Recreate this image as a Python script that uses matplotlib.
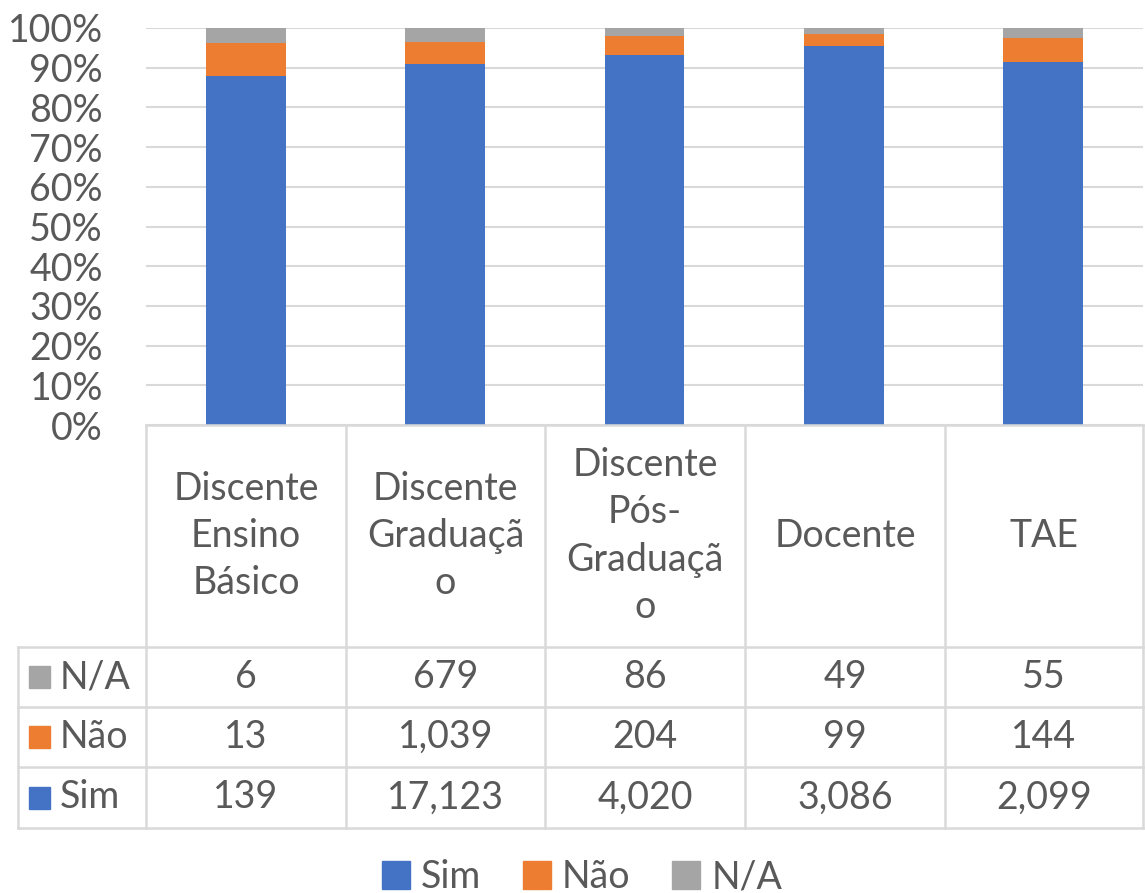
import numpy as np
import matplotlib.pyplot as plt
from matplotlib.patches import Patch
from matplotlib.lines import Line2D

plt.rcParams['font.family'] = ['Lato', 'DejaVu Sans']

categories = ['Discente\nEnsino\nBásico', 'Discente\nGraduaçã\no',
              'Discente\nPós-\nGraduaçã\no', 'Docente', 'TAE']
series = ['Sim', 'Não', 'N/A']
sim = [139, 17123, 4020, 3086, 2099]
nao = [13, 1039, 204, 99, 144]
na = [6, 679, 86, 49, 55]
colors = ['#4472C4', '#ED7D31', '#A5A5A5']
txt = '#595959'
grid = '#d9d9d9'

W, H = 1145, 893
fig = plt.figure(figsize=(W / 100, H / 100), dpi=100)

def fx(px):
    return px / W

def fy(py):
    return 1 - py / H

# plot area in pixels
x0, x1 = 146, 1143
ytop, ybot = 28, 425
ax = fig.add_axes([fx(x0), fy(ybot), fx(x1) - fx(x0), (ybot - ytop) / H])

vals = np.array([sim, nao, na], dtype=float)
pct = vals / vals.sum(axis=0)
x = np.arange(len(categories))
bottom = np.zeros(len(categories))
for i in range(3):
    ax.bar(x, pct[i], 0.4, bottom=bottom, color=colors[i], zorder=3)
    bottom += pct[i]

fs = 27
ax.set_xlim(-0.5, len(categories) - 0.5)
ax.set_ylim(0, 1)
ax.set_yticks(np.arange(0, 1.01, 0.1))
ax.set_yticklabels([f'{int(round(t * 100))}%' for t in np.arange(0, 1.01, 0.1)])
ax.tick_params(axis='y', length=0, pad=31, labelsize=fs, labelcolor=txt)
ax.set_xticks([])
ax.yaxis.grid(True, color=grid, lw=1.5, zorder=0)
for s in ax.spines.values():
    s.set_visible(False)

# data table
cols = [146, 346, 545, 745, 945, 1143]
rows = [425, 647, 707, 767, 828]
left = 18

def hline(y, xa, xb):
    fig.add_artist(Line2D([fx(xa), fx(xb)], [fy(y), fy(y)], color=grid, lw=1.8))

def vline(xp, ya, yb):
    fig.add_artist(Line2D([fx(xp), fx(xp)], [fy(ya), fy(yb)], color=grid, lw=1.8))

hline(rows[0], cols[0], cols[-1])
for r in rows[1:]:
    hline(r, left, cols[-1])
for c in cols:
    vline(c, rows[0], rows[-1])
vline(left, rows[1], rows[-1])

for j, cat in enumerate(categories):
    cx = (cols[j] + cols[j + 1]) / 2
    fig.text(fx(cx), fy((rows[0] + rows[1]) / 2), cat, ha='center', va='center',
             fontsize=fs, color=txt, linespacing=1.38)

table_rows = [('N/A', na, colors[2]), ('Não', nao, colors[1]), ('Sim', sim, colors[0])]
for i, (name, v, c) in enumerate(table_rows):
    cy = (rows[i + 1] + rows[i + 2]) / 2
    fig.patches.append(plt.Rectangle((fx(29), fy(cy + 11)), 21 / W, 22 / H,
                                     color=c, transform=fig.transFigure))
    fig.text(fx(60), fy(cy), name, ha='left', va='center', fontsize=fs, color=txt)
    for j, val in enumerate(v):
        cx = (cols[j] + cols[j + 1]) / 2
        fig.text(fx(cx), fy(cy), f'{val:,}', ha='center', va='center',
                 fontsize=fs, color=txt)

handles = [Patch(color=c, label=s) for s, c in zip(series, colors)]
fig.legend(handles=handles, loc='center', bbox_to_anchor=(fx(582), fy(877)),
           ncol=3, frameon=False, fontsize=fs, labelcolor=txt,
           handlelength=0.75, handleheight=0.75, handletextpad=0.3, columnspacing=1.1)

fig.savefig('out.png', dpi=100)
